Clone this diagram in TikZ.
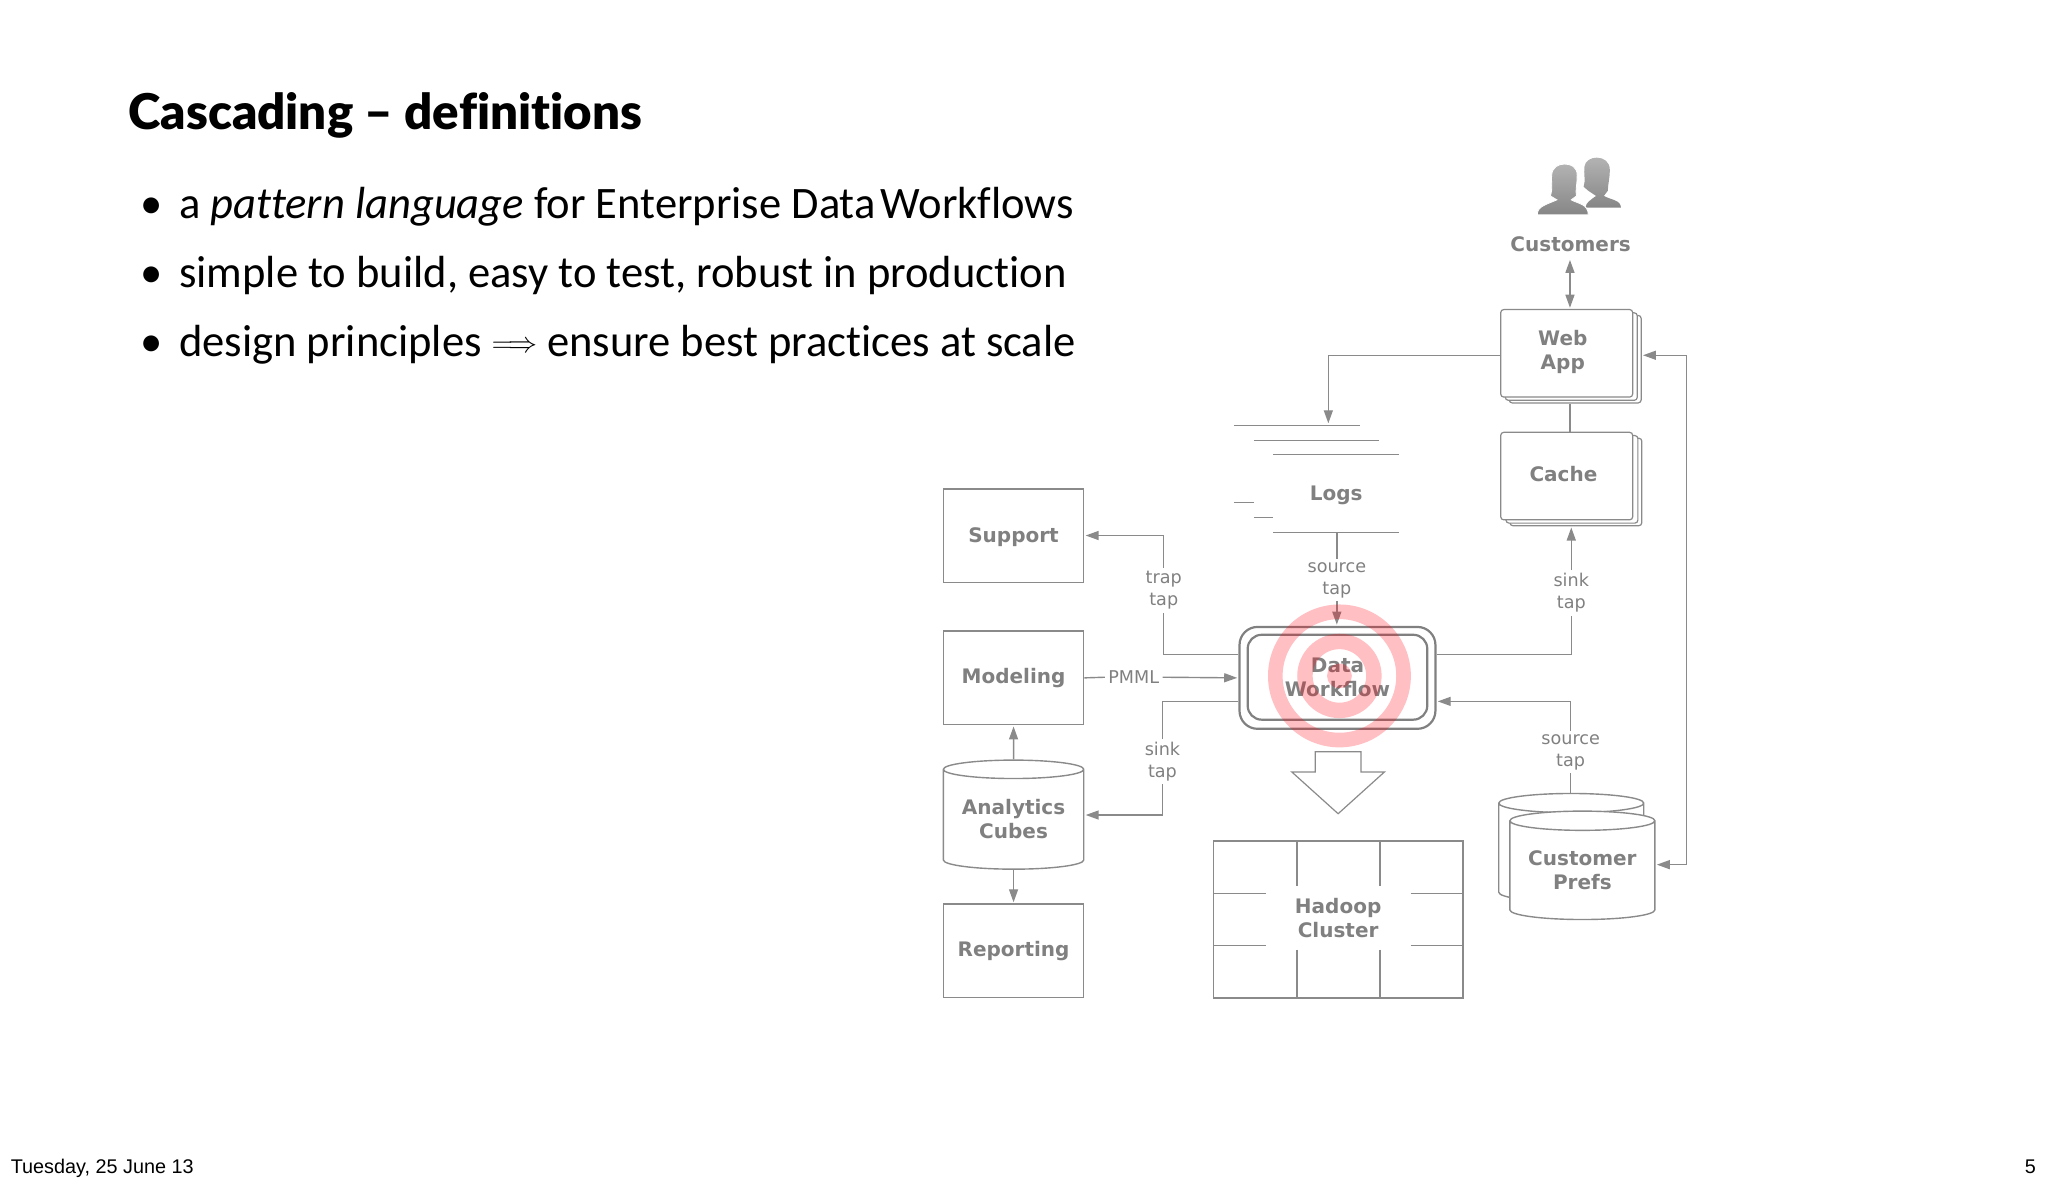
\documentclass[tikz,border=0pt]{standalone}
\usepackage{fontspec}
\usepackage{amsmath}
\usetikzlibrary{arrows.meta,shapes.geometric}
\setmainfont{Carlito}[Ligatures=NoCommon, FakeStretch=0.99]
\newfontfamily\titlefont{Lato Black}[Ligatures=NoCommon]
\newfontfamily\diagramfont{DejaVu Sans}
\newfontfamily\footfont{Liberation Sans}
\definecolor{diagramgray}{RGB}{128,128,128}
\definecolor{linegray}{RGB}{138,138,138}
\definecolor{ringpink}{RGB}{255,0,15}
\def\ulen{0.653pt}

\begin{document}
\begin{tikzpicture}[x=\ulen,y=-\ulen]
        % Define styles
        \tikzset{
            slidetext/.style={anchor=base west, inner sep=0pt, font=\fontsize{22.5}{27}\selectfont},
            foottext/.style={inner sep=0pt, font=\footfont\fontsize{9.9}{12}\selectfont},
            boxlabel/.style={text=diagramgray, align=center, font=\diagramfont\bfseries\fontsize{10}{11.75}\selectfont},
            taplabel/.style={text=diagramgray, align=center, inner sep=1.5pt, font=\diagramfont\fontsize{8.8}{11}\selectfont},
            plainbox/.style={boxlabel, rectangle, draw=linegray, line width=0.7pt, minimum width=107.5*\ulen, minimum height=71.5*\ulen},
            stackbox/.style={rectangle, draw=linegray, fill=white, rounded corners=1.5pt, line width=0.6pt, minimum width=101*\ulen, minimum height=67*\ulen},
            storebox/.style={boxlabel, cylinder, shape border rotate=90, draw=linegray, fill=white, line width=0.7pt, shape aspect=0.158, text depth=2.6pt},
            flowbox/.style={boxlabel, rectangle, rounded corners=9pt, draw=diagramgray, line width=1.1pt},
            storeline/.style={draw=linegray, line width=0.6pt},
            arrow/.style={-{Triangle[length=6.5pt,width=4.5pt]}, draw=linegray, line width=0.7pt, shorten >=0.6pt},
            link/.style={draw=linegray, line width=0.7pt},
            targetring/.style={ringpink, opacity=0.25},
            person/.style={top color=gray!60, bottom color=gray!95}
        }
        \useasboundingbox (0,0) rectangle (1568,906.5);

        % Slide text
        \node[anchor=base west, inner sep=0pt, font=\titlefont\fontsize{24.6}{29}\selectfont] (title_node) at (98,99.5) {Cascading – definitions};
        \node[slidetext, anchor=base] (bullet_node_1) at (116,167) {•};
        \node[slidetext] (line_node_1) at (137,167) {a \textit{pattern language} for Enterprise Data\hspace{-2.5pt} Workflows};
        \node[slidetext, anchor=base] (bullet_node_2) at (116,220) {•};
        \node[slidetext] (line_node_2) at (137,220) {simple to build, easy to test, robust in production};
        \node[slidetext, anchor=base] (bullet_node_3) at (116,273) {•};
        \node[slidetext] (line_node_3) at (137,273) {design principles \raisebox{2pt}{\scalebox{0.7}{$\Longrightarrow$}} ensure best practices at scale};
        \node[foottext, anchor=base west] (date_node) at (8,898.5) {Tuesday, 25 June 13};
        \node[foottext, anchor=base east] (page_node) at (1559,898.5) {5};

        % Customers
        \path[person] (1214,159) .. controls (1214,155) and (1218,153) .. (1222,150) -- (1216,146) -- (1212.5,143) .. controls (1214,138) and (1212.5,133) .. (1213,128) .. controls (1213.5,123) and (1218,120.7) .. (1222.5,120.7) .. controls (1228,120.7) and (1232.5,124) .. (1232.5,130) .. controls (1232.5,137) and (1231,141) .. (1231,146) -- (1228,150) .. controls (1233,153) and (1241,153) .. (1241,159) -- cycle;
        \path[person, draw=white, line width=0.4pt] (1177,164.5) .. controls (1177,158) and (1183,157) .. (1192,153) -- (1187,150) .. controls (1189,144) and (1187.5,140) .. (1188,134) .. controls (1188.5,128) and (1193,125.6) .. (1198,125.6) .. controls (1203,125.6) and (1207.5,128) .. (1207.5,134) .. controls (1207.5,142) and (1206,146) .. (1207,150) -- (1203,153) .. controls (1208,156) and (1216,156) .. (1216,164.5) -- cycle;
        \node[boxlabel] (customers_node) at (1202.5,187) {Customers};

        % Nodes
        \node[stackbox] (webapp_back_2) at (1206,275) {};
        \node[stackbox] (webapp_back_1) at (1203,273) {};
        \node[stackbox] (webapp_node) at (1199.5,270.5) {};
        \node[boxlabel] (webapp_label) at (1196.5,269.5) {Web\\App};
        \node[stackbox] (cache_back_2) at (1206.5,369) {};
        \node[stackbox] (cache_back_1) at (1203.5,367) {};
        \node[stackbox] (cache_node) at (1199.5,364.5) {};
        \node[boxlabel] (cache_label) at (1197,363) {Cache};
        \node[plainbox, text depth=0pt] (support_node) at (776,410) {Support};
        \node[plainbox] (modeling_node) at (776,519) {Modeling};
        \node[plainbox] (reporting_node) at (776,728) {Reporting};
        \node[storebox, minimum width=107.5*\ulen, minimum height=83.5*\ulen] (analytics_node) at (776,629) {Analytics\\Cubes};
        \node[storebox, minimum width=111*\ulen, minimum height=83*\ulen] (prefs_back) at (1203,654.5) {\phantom{Customer}};
        \node[storebox, minimum width=111*\ulen, minimum height=83*\ulen] (prefs_node) at (1211.5,668) {Customer\\Prefs};

        % Logs
        \draw[storeline] (945,326) -- (1041,326);
        \draw[storeline] (960,337) -- (1056,337);
        \draw[storeline] (975,348) -- (1071,348);
        \draw[storeline] (945,385) -- (960,385);
        \draw[storeline] (960,396) -- (975,396);
        \draw[storeline] (975,408) -- (1071,408);
        \node[boxlabel] (logs_node) at (1023,379) {Logs};
        \coordinate (logs_top) at (1017,325);
        \coordinate (logs_bottom) at (1023.5,408);

        % Data workflow
        \node[flowbox, minimum width=150*\ulen, minimum height=78*\ulen] (workflow_node) at (1024,519) {};
        \node[flowbox, rounded corners=7pt, minimum width=137.5*\ulen, minimum height=65*\ulen] (workflow_inner) at (1024,518.5) {Data\\Workflow};
        \coordinate (workflow_trap) at (workflow_node.west |- 0,501);
        \coordinate (workflow_sink) at (workflow_node.west |- 0,537);
        \coordinate (workflow_out) at (workflow_node.east |- 0,501);
        \coordinate (workflow_in) at (workflow_node.east |- 0,537);

        % Hadoop cluster
        \draw[link] (929,644) rectangle (1120,764);
        \draw[link] (993,644) -- (993,678);
        \draw[link] (1056.5,644) -- (1056.5,678);
        \draw[link] (993,727) -- (993,764);
        \draw[link] (1056.5,727) -- (1056.5,764);
        \draw[link] (929,684) -- (969,684);
        \draw[link] (929,724) -- (969,724);
        \draw[link] (1080,684) -- (1120,684);
        \draw[link] (1080,724) -- (1120,724);
        \node[boxlabel] (hadoop_node) at (1024.5,703) {Hadoop\\Cluster};
        \draw[link, line width=0.6pt] (1007,575.5) -- (1042,575.5) -- (1042,591) -- (1060,591) -- (1024.5,623) -- (989,591) -- (1007,591) -- cycle;

        % Tap labels
        \node[taplabel] (traptap_node) at (891,452) {trap\\tap};
        \node[taplabel] (pmml_node) at (868,518.5) {PMML};
        \node[taplabel] (sinktap_left) at (890,583) {sink\\tap};
        \node[taplabel] (sourcetap_top) at (1023.5,444) {source\\tap};
        \node[taplabel] (sinktap_right) at (1203,454) {sink\\tap};
        \node[taplabel] (sourcetap_right) at (1202.5,576) {source\\tap};

        % Arrows
        \coordinate (customers_end) at (1202,199);
        \draw[arrow, {Triangle[length=6.5pt,width=4.5pt]}-{Triangle[length=6.5pt,width=4.5pt]}] (customers_end) -- (customers_end |- webapp_node.north);
        \draw[arrow] (webapp_node.west |- 0,272) -| (logs_top);
        \draw[link] (webapp_back_2.south -| customers_end) -- (cache_node.north -| customers_end);
        \draw[arrow] (sinktap_right.north) -- (sinktap_right.north |- cache_back_2.south);
        \draw[link] (workflow_out) -| (sinktap_right.south);
        \draw[arrow] (traptap_node.north) |- (support_node.east);
        \draw[link] (workflow_trap) -| (traptap_node.south);
        \draw[link] (modeling_node.east) -- (pmml_node.west);
        \draw[arrow] (pmml_node.east) -- (workflow_node.west);
        \draw[link] (workflow_sink) -| (sinktap_left.north);
        \draw[arrow] (sinktap_left.south) |- (analytics_node.east |- 0,624);
        \draw[link] (logs_bottom) -- (sourcetap_top.north);
        \draw[arrow] (sourcetap_top.south) -- (sourcetap_top.south |- workflow_node.north);
        \draw[arrow] (sourcetap_right.north) |- (workflow_in);
        \draw[link] (sourcetap_right.south) -- (sourcetap_right.south |- prefs_back.north);
        \draw[arrow] (analytics_node.north) -- (modeling_node.south);
        \draw[arrow] (analytics_node.south) -- (reporting_node.north);
        \coordinate (return_corner) at (1291,272);
        \draw[arrow] (return_corner) -- (webapp_back_2.east |- return_corner);
        \draw[arrow] (return_corner) |- (prefs_node.east |- 0,662);

        % Target
        \draw[targetring, line width=11.2*\ulen] (1025.5,517.5) circle[radius=49.1];
        \draw[targetring, line width=11.8*\ulen] (1025.5,517.5) circle[radius=26.4];
        \fill[targetring] (1025.5,517.5) circle[radius=9.5];
\end{tikzpicture}
\end{document}
